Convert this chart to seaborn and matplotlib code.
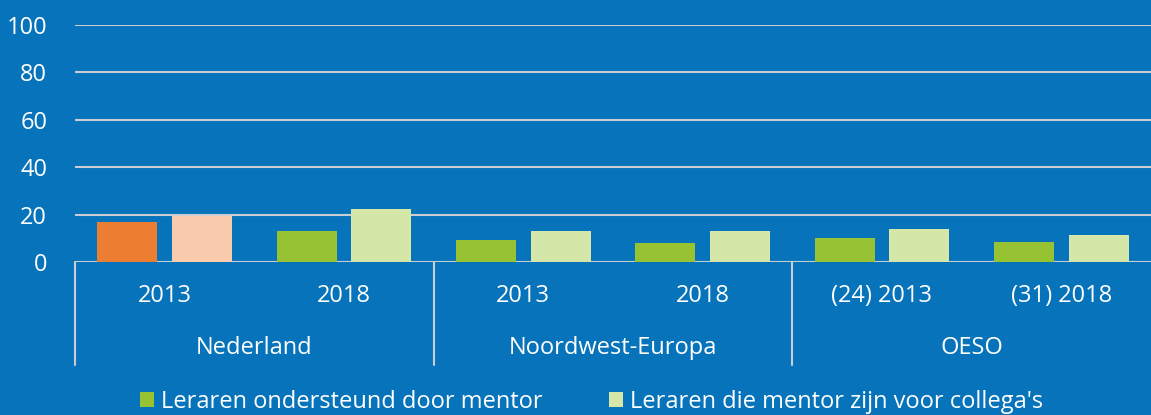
import numpy as np
import pandas as pd
import seaborn as sns
import matplotlib.pyplot as plt

# data (percentages)
groups = ["Nederland", "Noordwest-Europa", "OESO"]
year_labels = ["2013", "2018", "2013", "2018", "(24) 2013", "(31) 2018"]
keys = ["NL 2013", "NL 2018", "NWE 2013", "NWE 2018", "OESO 2013", "OESO 2018"]
ondersteund = [16.9, 13.1, 9.3, 8.0, 10.2, 8.6]
mentor_collega = [19.5, 22.2, 13.1, 13.0, 13.8, 11.4]
series = ["Leraren ondersteund door mentor", "Leraren die mentor zijn voor collega's"]

bg = "#0673BA"
gridc = "#C9CED3"
green = "#97C231"
lgreen = "#D5E7A8"
orange = "#ED7D31"
lorange = "#F7CBAC"

df = pd.DataFrame({
    "key": keys * 2,
    "value": ondersteund + mentor_collega,
    "serie": [series[0]] * len(keys) + [series[1]] * len(keys),
})

sns.set_theme(style="white")
plt.rcParams["font.family"] = ["Open Sans", "DejaVu Sans"]

fig = plt.figure(figsize=(11.51, 4.15), dpi=100, facecolor=bg)
ax = fig.add_axes([75 / 1151, 153 / 415, 1 - 75 / 1151, 237 / 415])
ax.set_facecolor(bg)

sns.barplot(data=df, x="key", y="value", hue="serie", palette=[green, lgreen],
            width=0.836, gap=0.2, saturation=1, linewidth=0, ax=ax)

# Nederland 2013 is shown in orange
ax.containers[0][0].set_facecolor(orange)
ax.containers[1][0].set_facecolor(lorange)

ax.set_ylim(0, 100)
ax.set_xlim(-0.5, len(keys) - 0.5)
ax.set_yticks(np.arange(0, 101, 20))
ax.yaxis.grid(True, color=gridc, linewidth=1.5)
ax.set_axisbelow(True)
for s in ax.spines.values():
    s.set_visible(False)
ax.tick_params(axis="y", length=0, pad=20, labelsize=17, labelcolor="white")
ax.set_xticks(range(len(keys)))
ax.set_xticklabels(year_labels)
ax.tick_params(axis="x", length=0, pad=16, labelsize=17, labelcolor="white")
ax.set_xlabel("")
ax.set_ylabel("")

# group labels and separators below the axis
trans = ax.get_xaxis_transform()
for i, g in enumerate(groups):
    ax.text(2 * i + 0.5, -86 / 237, g, transform=trans, ha="center", va="center",
            color="white", fontsize=17)
    ax.plot([2 * i - 0.5] * 2, [0, -103 / 237], transform=trans, clip_on=False,
            color=gridc, linewidth=1.5)

leg = ax.get_legend()
handles = leg.legend_handles
labels = [t.get_text() for t in leg.get_texts()]
leg.remove()
fig.legend(handles, labels, loc="center", bbox_to_anchor=(0.514, 0.032), ncol=2,
           frameon=False, fontsize=17, labelcolor="white", handlelength=0.6,
           handleheight=0.6, handletextpad=0.3, columnspacing=2.8)

fig.savefig("out.png", dpi=100, facecolor=bg)
